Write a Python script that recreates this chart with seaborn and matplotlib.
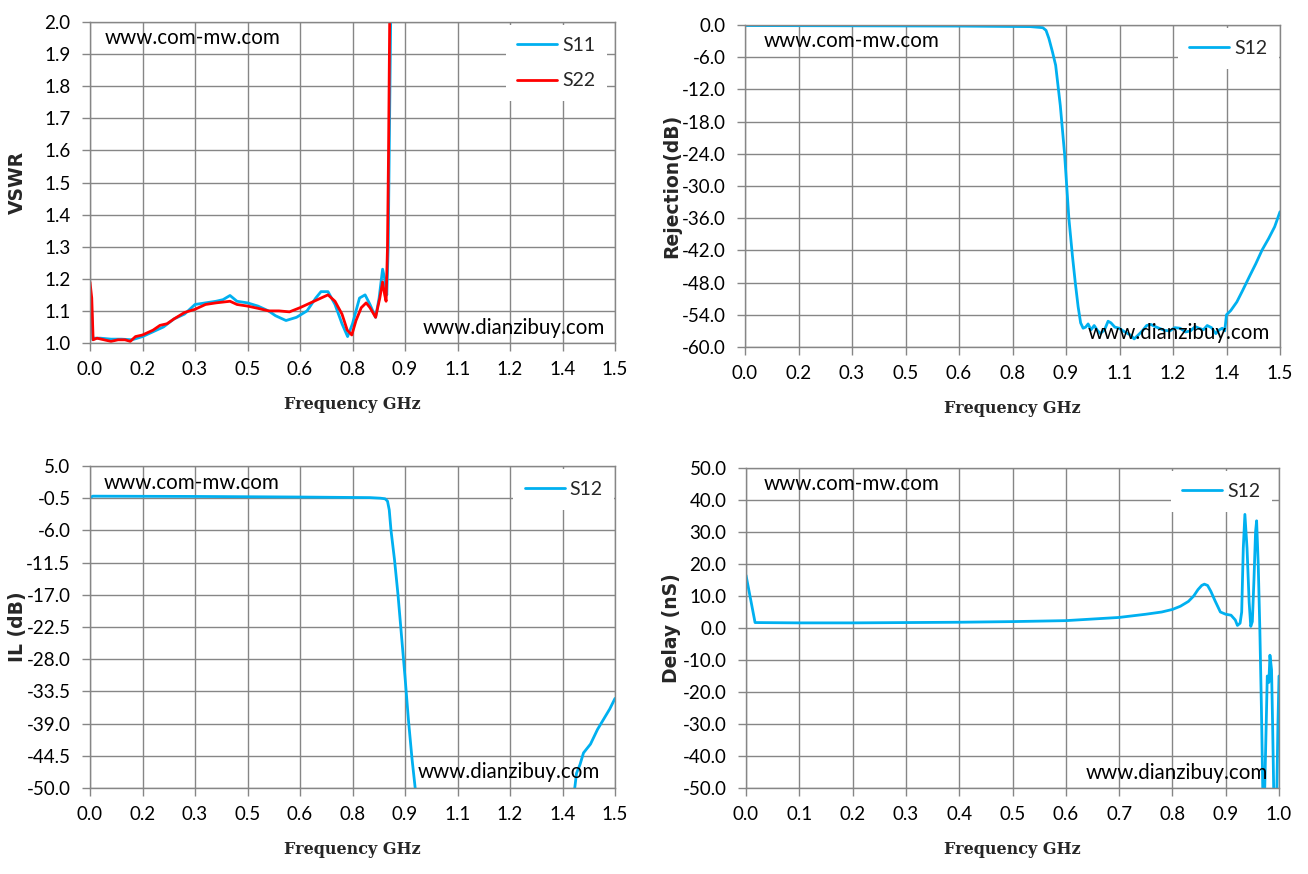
import numpy as np
import pandas as pd
import matplotlib
matplotlib.use("Agg")
import matplotlib.pyplot as plt
import seaborn as sns

# ---- VSWR (S11 / S22) ----
vswr_freq_s11 = [0.0, 0.004, 0.008, 0.012, 0.03, 0.06, 0.09, 0.12, 0.15, 0.18, 0.21, 0.24,
                 0.27, 0.30, 0.33, 0.36, 0.38, 0.40, 0.42, 0.45, 0.48, 0.51, 0.53, 0.56,
                 0.59, 0.62, 0.645, 0.66, 0.68, 0.70, 0.72, 0.736, 0.75, 0.77, 0.786, 0.80,
                 0.816, 0.826, 0.836, 0.842, 0.848, 0.852, 0.856, 0.86]
vswr_s11 = [1.16, 1.12, 1.01, 1.015, 1.015, 1.012, 1.012, 1.01, 1.02, 1.035, 1.05, 1.075,
            1.09, 1.12, 1.125, 1.13, 1.135, 1.148, 1.13, 1.125, 1.115, 1.10, 1.085, 1.07,
            1.08, 1.10, 1.14, 1.16, 1.16, 1.12, 1.06, 1.02, 1.06, 1.14, 1.15, 1.12,
            1.08, 1.14, 1.23, 1.20, 1.15, 1.3, 1.7, 2.1]
vswr_freq_s22 = [0.0, 0.005, 0.009, 0.02, 0.04, 0.06, 0.08, 0.10, 0.115, 0.13, 0.15, 0.18,
                 0.20, 0.22, 0.24, 0.27, 0.30, 0.33, 0.36, 0.40, 0.42, 0.45, 0.48, 0.51,
                 0.54, 0.57, 0.60, 0.63, 0.66, 0.68, 0.70, 0.72, 0.735, 0.748, 0.76, 0.775,
                 0.789, 0.80, 0.816, 0.828, 0.836, 0.842, 0.846, 0.850, 0.853, 0.857]
vswr_s22 = [1.19, 1.14, 1.01, 1.015, 1.01, 1.005, 1.01, 1.01, 1.005, 1.02, 1.025, 1.04,
            1.055, 1.06, 1.075, 1.095, 1.105, 1.12, 1.125, 1.13, 1.12, 1.115, 1.108, 1.10,
            1.10, 1.097, 1.11, 1.125, 1.14, 1.15, 1.13, 1.09, 1.04, 1.025, 1.07, 1.11,
            1.125, 1.11, 1.08, 1.14, 1.19, 1.15, 1.13, 1.3, 1.6, 2.1]

# ---- Rejection S12 ----
rej_freq = [0.0, 0.3, 0.6, 0.8, 0.835, 0.844, 0.852, 0.862, 0.871, 0.884, 0.896, 0.908,
            0.918, 0.926, 0.934, 0.941, 0.948, 0.955, 0.962, 0.970, 0.979, 0.988, 0.996,
            1.008, 1.018, 1.026, 1.037, 1.049, 1.060, 1.073, 1.082, 1.091, 1.102, 1.114,
            1.126, 1.138, 1.150, 1.161, 1.176, 1.191, 1.205, 1.22, 1.235, 1.249, 1.262,
            1.273, 1.285, 1.296, 1.308, 1.32, 1.33, 1.338, 1.345, 1.35, 1.362, 1.379,
            1.395, 1.414, 1.432, 1.45, 1.468, 1.485, 1.5]
rej_s12 = [-0.1, -0.15, -0.2, -0.3, -0.5, -1.0, -2.5, -5.0, -7.5, -15.0, -24.0, -36.0,
           -43.0, -48.0, -52.5, -55.5, -56.5, -56.3, -55.7, -56.8, -56.0, -56.9, -57.5,
           -56.8, -55.2, -55.5, -56.3, -56.5, -57.0, -57.5, -57.8, -58.5, -57.8, -57.0,
           -56.0, -55.8, -56.2, -56.5, -56.9, -57.0, -56.4, -56.5, -57.2, -57.0, -56.2,
           -56.5, -56.8, -56.0, -56.4, -57.5, -56.8, -56.5, -57.0, -54.0, -53.2, -51.6,
           -49.5, -46.9, -44.5, -41.9, -39.8, -37.6, -34.8]

# ---- Insertion loss S12 ----
il_freq = [0.0, 0.008, 0.3, 0.6, 0.8, 0.83, 0.843, 0.85, 0.855, 0.86, 0.87, 0.88, 0.89,
           0.90, 0.91, 0.92, 0.93, 0.94, 1.37, 1.38, 1.385, 1.39, 1.40, 1.41, 1.43, 1.45,
           1.47, 1.485, 1.5]
il_s12 = [-0.4, -0.15, -0.2, -0.3, -0.4, -0.5, -0.6, -1.0, -2.5, -6.0, -11.0, -17.0,
          -24.0, -31.0, -38.5, -45.0, -50.5, -55.0, -55.0, -50.5, -50.0, -47.5, -46.0,
          -44.0, -42.5, -40.0, -38.0, -36.5, -34.7]

# ---- Group delay S12 ----
dly_freq = [0.0, 0.017, 0.1, 0.2, 0.3, 0.4, 0.5, 0.6, 0.7, 0.75, 0.78, 0.8, 0.815, 0.83,
            0.84, 0.848, 0.855, 0.86, 0.866, 0.872, 0.88, 0.89, 0.9, 0.91, 0.918, 0.922,
            0.927, 0.93, 0.933, 0.936, 0.94, 0.944, 0.947, 0.95, 0.953, 0.956, 0.958,
            0.961, 0.964, 0.967, 0.97, 0.973, 0.976, 0.978, 0.981, 0.983, 0.986, 0.988,
            0.99, 0.993, 0.996, 0.998, 1.0]
dly_s12 = [16.5, 1.7, 1.6, 1.6, 1.7, 1.8, 2.0, 2.3, 3.3, 4.3, 5.0, 5.8, 6.8, 8.3,
           10.0, 12.0, 13.3, 13.7, 13.3, 11.5, 8.5, 5.0, 4.3, 4.0, 2.5, 0.8,
           1.5, 5.0, 25.0, 35.5, 25.0, 8.0, 0.5, 2.0, 15.0, 30.0, 33.5,
           20.0, 0.0, -25.0, -55.0, -52.0, -30.0, -15.0, -17.0, -8.5, -13.0, -30.0,
           -50.0, -55.0, -50.0, -30.0, -15.0]

freq_ticks_15 = [0.0, 0.15, 0.3, 0.45, 0.6, 0.75, 0.9, 1.05, 1.2, 1.35, 1.5]
freq_labels_15 = ['0.0', '0.2', '0.3', '0.5', '0.6', '0.8', '0.9', '1.1', '1.2', '1.4', '1.5']
freq_ticks_10 = [0.0, 0.1, 0.2, 0.3, 0.4, 0.5, 0.6, 0.7, 0.8, 0.9, 1.0]
vswr_ticks = [1.0, 1.1, 1.2, 1.3, 1.4, 1.5, 1.6, 1.7, 1.8, 1.9, 2.0]
rej_ticks = [0.0, -6.0, -12.0, -18.0, -24.0, -30.0, -36.0, -42.0, -48.0, -54.0, -60.0]
il_ticks = [5.0, -0.5, -6.0, -11.5, -17.0, -22.5, -28.0, -33.5, -39.0, -44.5, -50.0]
dly_ticks = [50.0, 40.0, 30.0, 20.0, 10.0, 0.0, -10.0, -20.0, -30.0, -40.0, -50.0]

BLUE = '#00B0F0'
RED = '#FF0000'
GRID = '#868686'

sns.set_style('white')
plt.rcParams['font.family'] = ['Lato', 'DejaVu Sans']

fig = plt.figure(figsize=(13.08, 8.74), dpi=100)
W, H = 1308.0, 874.0


def make_axes(l, t, r, b):
    return fig.add_axes([l / W, 1 - b / H, (r - l) / W, (b - t) / H])


def style_axes(ax, xticks, xlabels, yticks, ylabel, xlim, ylim, ylab_x):
    ax.set_xlim(*xlim)
    ax.set_ylim(*ylim)
    ax.set_xticks(xticks)
    ax.set_xticklabels(xlabels)
    ax.set_yticks(yticks)
    ax.set_yticklabels([f'{v:.1f}' for v in yticks])
    ax.grid(True, color=GRID, linewidth=1.0)
    ax.set_axisbelow(True)
    for sp in ax.spines.values():
        sp.set_color(GRID)
        sp.set_linewidth(1.0)
    ax.tick_params(axis='both', which='major', direction='out', length=6, width=1,
                   color=GRID, labelsize=13.5, labelcolor='black', left=True, bottom=True)
    ax.tick_params(axis='y', pad=8)
    ax.tick_params(axis='x', pad=7)
    ax.set_xlabel('Frequency GHz', family='DejaVu Serif', fontweight='bold',
                  fontsize=11.5, labelpad=13)
    ax.set_ylabel(ylabel, family='DejaVu Sans', fontweight='bold', fontsize=13.5,
                  va='center')
    ax.yaxis.set_label_coords(ylab_x, 0.5)


def add_legend(ax, anchor):
    leg = ax.legend(loc='upper left', bbox_to_anchor=anchor, frameon=True,
                    fancybox=False, framealpha=1, facecolor='white', edgecolor='none',
                    fontsize=14, handlelength=2.05, handletextpad=0.25,
                    labelspacing=0.95, borderpad=0.6, borderaxespad=0)
    return leg


def watermarks(ax, top_xy, bot_xy):
    ax.text(top_xy[0], top_xy[1], 'www.com-mw.com', transform=ax.transAxes,
            fontsize=14.8, ha='left', va='center', color='black')
    ax.text(bot_xy[0], bot_xy[1], 'www.dianzibuy.com', transform=ax.transAxes,
            fontsize=14.8, ha='right', va='center', color='black')


# ---- VSWR ----
ax1 = make_axes(90, 22, 615, 343)
sns.lineplot(x=vswr_freq_s11, y=vswr_s11, ax=ax1, color=BLUE, linewidth=2,
             label='S11', estimator=None)
sns.lineplot(x=vswr_freq_s22, y=vswr_s22, ax=ax1, color=RED, linewidth=2,
             label='S22', estimator=None)
style_axes(ax1, freq_ticks_15, freq_labels_15, vswr_ticks, 'VSWR', (0, 1.5), (1.0, 2.0),
           -0.139)
add_legend(ax1, (0.792, 0.99))
watermarks(ax1, (15 / 525, 1 - 16 / 321), (1 - 10 / 525, 1 - 306 / 321))

# ---- Rejection ----
ax2 = make_axes(745, 25, 1280, 347)
sns.lineplot(x=rej_freq, y=rej_s12, ax=ax2, color=BLUE, linewidth=2,
             label='S12', estimator=None)
style_axes(ax2, freq_ticks_15, freq_labels_15, rej_ticks, 'Rejection(dB)', (0, 1.5),
           (-60, 0), -0.136)
add_legend(ax2, (0.809, 0.99))
watermarks(ax2, (19 / 535, 1 - 16 / 322), (1 - 10 / 535, 1 - 308 / 322))

# ---- Insertion loss ----
ax3 = make_axes(90, 466, 615, 788)
sns.lineplot(x=il_freq, y=il_s12, ax=ax3, color=BLUE, linewidth=2,
             label='S12', estimator=None)
style_axes(ax3, freq_ticks_15, freq_labels_15, il_ticks, 'IL (dB)', (0, 1.5), (-50, 5),
           -0.139)
add_legend(ax3, (0.806, 0.99))
watermarks(ax3, (14 / 525, 1 - 17 / 322), (1 - 15 / 525, 1 - 306 / 322))

# ---- Delay ----
ax4 = make_axes(746, 468, 1279, 788)
sns.lineplot(x=dly_freq, y=dly_s12, ax=ax4, color=BLUE, linewidth=2,
             label='S12', estimator=None)
style_axes(ax4, freq_ticks_10, [f'{v:.1f}' for v in freq_ticks_10], dly_ticks,
           'Delay (nS)', (0, 1.0), (-50, 50), -0.139)
add_legend(ax4, (0.797, 0.99))
watermarks(ax4, (18 / 533, 1 - 16 / 320), (1 - 11 / 533, 1 - 305 / 320))

fig.savefig('out.png', dpi=100)
